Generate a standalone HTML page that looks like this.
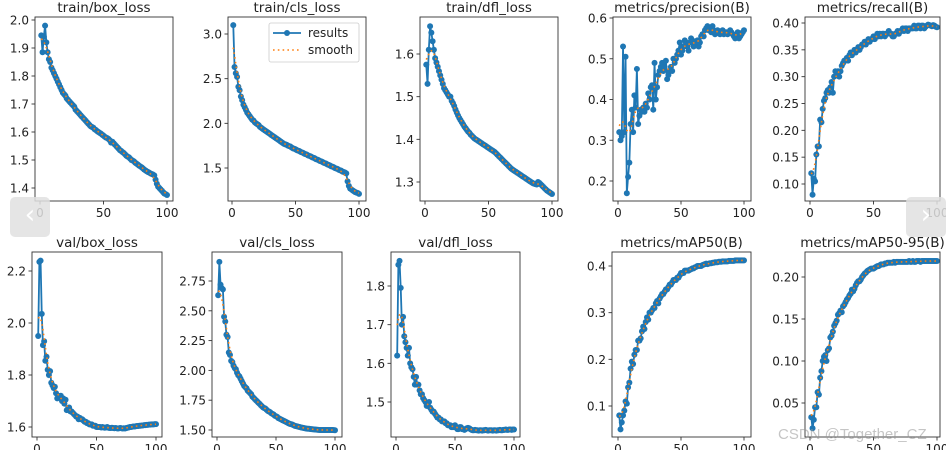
<!DOCTYPE html>
<html><head><meta charset="utf-8">
<style>
html,body{margin:0;padding:0;background:#fff;}
#wrap{position:relative;width:946px;height:450px;overflow:hidden;font-family:"DejaVu Sans","Liberation Sans",sans-serif;}
svg text{font-family:"DejaVu Sans","Liberation Sans",sans-serif;fill:#222;}
.nav{position:absolute;top:197px;width:40px;height:40px;background:rgba(225,225,225,0.85);border-radius:5px;color:#fff;font-size:26px;line-height:36px;text-align:center;}
#wm{position:absolute;left:778px;top:426px;font-size:15px;color:rgba(150,150,150,0.55);font-family:"Liberation Sans",sans-serif;}
</style></head>
<body>
<div id="wrap">
<svg id="fig" width="946" height="450"></svg>
<div class="nav" style="left:10px">‹</div>
<div class="nav" style="left:906px">›</div>
<div id="wm">CSDN @Together_CZ</div>
</div>
<script>
const trainBox=[1.945,1.885,1.94,1.98,1.92,1.885,1.86,1.85,1.83,1.82,1.81,1.80,1.79,1.78,1.77,1.76,1.75,1.74,1.735,1.73,1.72,1.715,1.71,1.705,1.70,1.695,1.69,1.68,1.675,1.67,1.665,1.66,1.655,1.65,1.645,1.64,1.635,1.63,1.625,1.62,1.618,1.615,1.61,1.607,1.603,1.60,1.597,1.594,1.59,1.587,1.583,1.58,1.578,1.575,1.57,1.562,1.565,1.56,1.555,1.55,1.545,1.54,1.535,1.532,1.528,1.525,1.52,1.515,1.512,1.51,1.505,1.50,1.498,1.495,1.49,1.487,1.484,1.48,1.477,1.474,1.47,1.466,1.463,1.46,1.457,1.455,1.452,1.45,1.448,1.445,1.43,1.415,1.405,1.40,1.395,1.39,1.385,1.38,1.378,1.375];
const trainCls=[3.10,2.63,2.56,2.52,2.41,2.37,2.30,2.26,2.21,2.18,2.15,2.12,2.10,2.08,2.06,2.04,2.03,2.01,2.00,1.99,1.98,1.96,1.95,1.94,1.93,1.92,1.91,1.90,1.89,1.88,1.87,1.86,1.85,1.84,1.83,1.82,1.81,1.80,1.79,1.78,1.77,1.765,1.76,1.75,1.745,1.74,1.73,1.72,1.715,1.71,1.70,1.695,1.69,1.68,1.675,1.67,1.66,1.655,1.65,1.64,1.635,1.63,1.62,1.615,1.61,1.60,1.595,1.59,1.58,1.575,1.57,1.56,1.555,1.55,1.54,1.535,1.53,1.52,1.515,1.51,1.50,1.495,1.49,1.48,1.475,1.47,1.46,1.455,1.45,1.44,1.35,1.30,1.27,1.26,1.25,1.24,1.23,1.225,1.22,1.21];
const trainDfl=[1.575,1.53,1.61,1.665,1.65,1.63,1.61,1.59,1.58,1.57,1.56,1.55,1.54,1.53,1.52,1.515,1.51,1.505,1.50,1.50,1.49,1.485,1.478,1.47,1.463,1.456,1.45,1.445,1.44,1.435,1.43,1.426,1.422,1.418,1.415,1.411,1.408,1.405,1.402,1.40,1.398,1.396,1.394,1.392,1.39,1.388,1.386,1.384,1.382,1.38,1.378,1.376,1.374,1.372,1.37,1.367,1.364,1.361,1.358,1.355,1.352,1.349,1.346,1.343,1.34,1.337,1.334,1.331,1.329,1.327,1.325,1.323,1.321,1.319,1.317,1.315,1.313,1.311,1.309,1.307,1.305,1.303,1.301,1.299,1.297,1.296,1.295,1.294,1.30,1.298,1.295,1.292,1.289,1.286,1.283,1.28,1.278,1.276,1.274,1.272];
const precision=[0.32,0.30,0.31,0.53,0.32,0.505,0.17,0.21,0.245,0.34,0.375,0.32,0.41,0.38,0.475,0.34,0.36,0.375,0.37,0.38,0.37,0.39,0.38,0.415,0.40,0.43,0.435,0.375,0.49,0.40,0.43,0.46,0.47,0.48,0.49,0.47,0.48,0.495,0.45,0.46,0.47,0.48,0.47,0.50,0.49,0.50,0.51,0.52,0.54,0.51,0.52,0.53,0.545,0.54,0.53,0.52,0.54,0.55,0.545,0.53,0.54,0.535,0.545,0.53,0.54,0.555,0.56,0.555,0.57,0.575,0.58,0.57,0.575,0.565,0.58,0.57,0.56,0.565,0.57,0.565,0.56,0.565,0.57,0.56,0.565,0.565,0.56,0.565,0.57,0.565,0.56,0.555,0.55,0.56,0.565,0.55,0.555,0.56,0.565,0.57];
const recall=[0.12,0.08,0.11,0.105,0.155,0.17,0.17,0.22,0.215,0.24,0.255,0.26,0.27,0.275,0.27,0.28,0.29,0.27,0.30,0.31,0.305,0.31,0.30,0.31,0.32,0.325,0.33,0.33,0.335,0.33,0.34,0.345,0.34,0.345,0.35,0.345,0.35,0.355,0.35,0.355,0.36,0.36,0.365,0.36,0.365,0.37,0.365,0.37,0.37,0.375,0.37,0.375,0.38,0.375,0.38,0.375,0.38,0.38,0.375,0.38,0.38,0.385,0.38,0.38,0.375,0.375,0.38,0.38,0.385,0.38,0.385,0.385,0.39,0.385,0.39,0.39,0.385,0.39,0.39,0.39,0.39,0.395,0.39,0.39,0.395,0.395,0.39,0.395,0.395,0.39,0.393,0.395,0.397,0.396,0.395,0.394,0.396,0.395,0.393,0.392];
const valBox=[1.95,2.235,2.24,2.035,1.915,1.93,1.855,1.87,1.82,1.80,1.815,1.77,1.76,1.75,1.755,1.73,1.71,1.72,1.715,1.72,1.70,1.71,1.69,1.705,1.665,1.67,1.675,1.66,1.66,1.655,1.65,1.645,1.64,1.64,1.63,1.635,1.63,1.63,1.625,1.62,1.62,1.615,1.615,1.61,1.61,1.61,1.605,1.605,1.605,1.60,1.60,1.60,1.60,1.598,1.60,1.598,1.597,1.598,1.60,1.597,1.596,1.596,1.597,1.596,1.595,1.596,1.595,1.594,1.595,1.596,1.595,1.594,1.595,1.594,1.596,1.597,1.598,1.60,1.60,1.601,1.602,1.602,1.603,1.604,1.604,1.605,1.605,1.606,1.606,1.607,1.607,1.608,1.608,1.609,1.609,1.61,1.61,1.61,1.611,1.611];
const valCls=[2.63,2.91,2.72,2.69,2.68,2.45,2.41,2.30,2.28,2.15,2.13,2.08,2.07,2.04,2.02,2.01,1.98,1.96,1.95,1.93,1.91,1.89,1.87,1.86,1.85,1.83,1.82,1.81,1.80,1.78,1.77,1.76,1.75,1.74,1.73,1.72,1.71,1.70,1.69,1.685,1.68,1.67,1.66,1.655,1.65,1.64,1.635,1.63,1.62,1.615,1.61,1.60,1.595,1.59,1.585,1.58,1.575,1.57,1.565,1.56,1.555,1.55,1.548,1.545,1.54,1.535,1.532,1.53,1.527,1.525,1.522,1.52,1.518,1.516,1.514,1.512,1.51,1.51,1.508,1.507,1.506,1.505,1.504,1.503,1.502,1.501,1.50,1.50,1.50,1.50,1.50,1.50,1.50,1.50,1.50,1.50,1.50,1.50,1.499,1.498];
const valDfl=[1.62,1.855,1.865,1.795,1.70,1.72,1.67,1.655,1.64,1.62,1.64,1.60,1.59,1.585,1.565,1.545,1.565,1.545,1.545,1.53,1.52,1.52,1.51,1.505,1.50,1.49,1.49,1.50,1.485,1.48,1.475,1.475,1.47,1.465,1.46,1.46,1.455,1.455,1.45,1.45,1.45,1.445,1.445,1.44,1.44,1.44,1.435,1.435,1.435,1.44,1.435,1.43,1.43,1.435,1.435,1.43,1.43,1.428,1.43,1.432,1.433,1.432,1.43,1.428,1.427,1.427,1.428,1.427,1.427,1.426,1.427,1.427,1.426,1.427,1.427,1.428,1.427,1.426,1.427,1.427,1.427,1.426,1.427,1.427,1.426,1.427,1.427,1.428,1.427,1.427,1.428,1.428,1.429,1.428,1.428,1.429,1.429,1.428,1.429,1.429];
const map50=[0.08,0.05,0.065,0.08,0.09,0.11,0.105,0.14,0.15,0.18,0.195,0.19,0.21,0.22,0.22,0.24,0.24,0.245,0.26,0.27,0.265,0.28,0.29,0.285,0.30,0.30,0.305,0.31,0.31,0.32,0.325,0.32,0.33,0.335,0.34,0.34,0.345,0.35,0.35,0.355,0.36,0.36,0.365,0.37,0.37,0.37,0.375,0.375,0.38,0.385,0.385,0.385,0.39,0.39,0.39,0.39,0.392,0.393,0.395,0.395,0.397,0.398,0.40,0.40,0.40,0.40,0.402,0.403,0.404,0.405,0.404,0.405,0.406,0.406,0.407,0.407,0.408,0.408,0.408,0.409,0.409,0.409,0.41,0.41,0.41,0.41,0.41,0.411,0.411,0.411,0.411,0.411,0.412,0.412,0.412,0.412,0.412,0.412,0.412,0.412];
const map5095=[0.033,0.02,0.03,0.045,0.045,0.063,0.06,0.08,0.088,0.10,0.105,0.107,0.10,0.113,0.115,0.128,0.13,0.135,0.142,0.145,0.148,0.155,0.157,0.16,0.158,0.165,0.167,0.17,0.173,0.175,0.178,0.18,0.185,0.183,0.186,0.19,0.193,0.195,0.195,0.197,0.20,0.202,0.204,0.205,0.207,0.208,0.209,0.21,0.21,0.21,0.211,0.212,0.213,0.213,0.214,0.215,0.215,0.215,0.216,0.216,0.217,0.217,0.217,0.217,0.217,0.218,0.217,0.218,0.218,0.218,0.218,0.218,0.218,0.218,0.218,0.218,0.218,0.219,0.218,0.218,0.219,0.218,0.218,0.219,0.219,0.219,0.218,0.219,0.219,0.219,0.219,0.219,0.219,0.219,0.219,0.219,0.219,0.219,0.219,0.219];
const xTicks=[0,50,100];

const panels=[
 {n:'train-box-loss',t:'train/box_loss',d:trainBox,L:35,R:173,T:17,B:201,x0:40,x1:167,ya:[2.0,20],yb:[1.4,188],yt:[1.4,1.5,1.6,1.7,1.8,1.9,2.0],f:1},
 {n:'train-cls-loss',t:'train/cls_loss',d:trainCls,L:228,R:366,T:17,B:201,x0:232,x1:359,ya:[3.0,34],yb:[1.5,168],yt:[1.5,2.0,2.5,3.0],f:1,leg:1},
 {n:'train-dfl-loss',t:'train/dfl_loss',d:trainDfl,L:420,R:558,T:17,B:201,x0:425,x1:552,ya:[1.6,54],yb:[1.3,182],yt:[1.3,1.4,1.5,1.6],f:1},
 {n:'precision',t:'metrics/precision(B)',d:precision,L:613,R:751,T:17,B:201,x0:618,x1:744,ya:[0.6,18],yb:[0.2,181],yt:[0.2,0.3,0.4,0.5,0.6],f:1},
 {n:'recall',t:'metrics/recall(B)',d:recall,L:805,R:940,T:17,B:201,x0:810,x1:937,ya:[0.40,23],yb:[0.10,184],yt:[0.10,0.15,0.20,0.25,0.30,0.35,0.40],f:2},
 {n:'val-box-loss',t:'val/box_loss',d:valBox,L:32,R:162,T:252,B:437,x0:37,x1:156,ya:[2.2,271],yb:[1.6,427],yt:[1.6,1.8,2.0,2.2],f:1},
 {n:'val-cls-loss',t:'val/cls_loss',d:valCls,L:212,R:342,T:252,B:437,x0:217,x1:335,ya:[2.75,281],yb:[1.50,430],yt:[1.50,1.75,2.00,2.25,2.50,2.75],f:2},
 {n:'val-dfl-loss',t:'val/dfl_loss',d:valDfl,L:391,R:520,T:252,B:437,x0:396,x1:514,ya:[1.8,286],yb:[1.5,402],yt:[1.5,1.6,1.7,1.8],f:1},
 {n:'map50',t:'metrics/mAP50(B)',d:map50,L:612,R:751,T:252,B:437,x0:618,x1:744,ya:[0.4,266],yb:[0.1,406],yt:[0.1,0.2,0.3,0.4],f:1},
 {n:'map50-95',t:'metrics/mAP50-95(B)',d:map5095,L:805,R:940,T:252,B:437,x0:810,x1:937,ya:[0.20,277],yb:[0.05,403],yt:[0.05,0.10,0.15,0.20],f:2}
];
const NS='http://www.w3.org/2000/svg';
const svg=document.getElementById('fig');
function mk(tag,attrs,parent){const e=document.createElementNS(NS,tag);for(const k in attrs)e.setAttribute(k,attrs[k]);(parent||svg).appendChild(e);return e;}
function smooth(v){const s=3,r=9,out=[];for(let i=0;i<v.length;i++){let a=0,w=0;for(let k=-r;k<=r;k++){const j=Math.min(v.length-1,Math.max(0,i+k));const g=Math.exp(-k*k/(2*s*s));a+=g*v[j];w+=g;}out.push(a/w);}return out;}
panels.forEach(p=>{
  const g=mk('g',{});
  
  
  const X=x=>p.x0+(x/100)*(p.x1-p.x0);
  const Y=y=>p.ya[1]+(y-p.ya[0])*(p.yb[1]-p.ya[1])/(p.yb[0]-p.ya[0]);
  const cp='c'+p.n;
  const defs=mk('defs',{},g);const c=mk('clipPath',{id:cp},defs);mk('rect',{x:p.L,y:p.T,width:p.R-p.L,height:p.B-p.T},c);
  const title=mk('text',{x:(p.L+p.R)/2,y:p.T-5,'text-anchor':'middle','font-size':13.5},g);title.textContent=p.t;
  
  
  const pts=p.d.map((v,i)=>X(i+1).toFixed(2)+','+Y(v).toFixed(2)).join(' ');
  const cg=mk('g',{'clip-path':'url(#'+cp+')'},g);
  const line=mk('polyline',{points:pts,fill:'none',stroke:'#1f77b4','stroke-width':1.8},cg);
  
  
  p.d.forEach((v,i)=>{const m=mk('circle',{cx:X(i+1),cy:Y(v),r:3,fill:'#1f77b4'},cg);
    
    });
  const sm=smooth(p.d);
  const sl=mk('polyline',{points:sm.map((v,i)=>X(i+1).toFixed(2)+','+Y(v).toFixed(2)).join(' '),fill:'none',stroke:'#ff7f0e','stroke-width':1.6,'stroke-dasharray':'1.6 3.2'},cg);
  
  
  mk('rect',{x:p.L,y:p.T,width:p.R-p.L,height:p.B-p.T,fill:'none',stroke:'#333','stroke-width':0.9},g);
  xTicks.forEach(t=>{const x=X(t);mk('line',{x1:x,x2:x,y1:p.B,y2:p.B+3.5,stroke:'#333','stroke-width':0.9},g);
    const tx=mk('text',{x:x,y:p.B+16,'text-anchor':'middle','font-size':12},g);tx.textContent=t;
    
    });
  p.yt.forEach(t=>{const y=Y(t);mk('line',{x1:p.L-3.5,x2:p.L,y1:y,y2:y,stroke:'#333','stroke-width':0.9},g);
    const ty=mk('text',{x:p.L-6,y:y+4.5,'text-anchor':'end','font-size':12},g);ty.textContent=t.toFixed(p.f);
    
    });
  if(p.leg){
    const lg=mk('g',{},g);
    
    
    mk('rect',{x:269,y:23,width:90,height:39,rx:2,fill:'#fff',stroke:'#ccc','stroke-width':0.8},lg);
    mk('line',{x1:273,x2:301,y1:33,y2:33,stroke:'#1f77b4','stroke-width':1.8},lg);
    mk('circle',{cx:287,cy:33,r:3,fill:'#1f77b4'},lg);
    mk('line',{x1:273,x2:301,y1:50,y2:50,stroke:'#ff7f0e','stroke-width':1.6,'stroke-dasharray':'1.6 3.2'},lg);
    const a=mk('text',{x:308,y:37,'font-size':12},lg);a.textContent='results';
    
    
    const b=mk('text',{x:308,y:54,'font-size':12},lg);b.textContent='smooth';
    
    
  }
});
</script>
</body></html>
